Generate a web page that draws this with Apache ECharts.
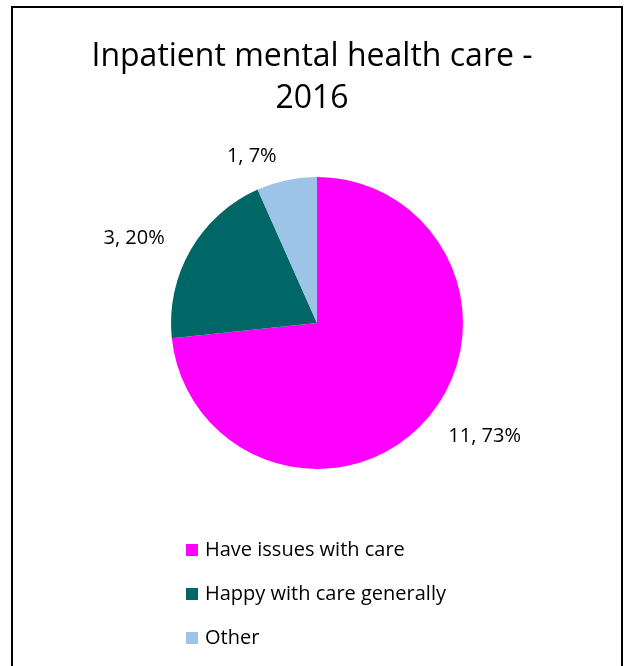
<!DOCTYPE html>
<html>
<head>
<meta charset="utf-8">
<script src="https://cdn.jsdelivr.net/npm/echarts@6/dist/echarts.min.js"></script>
<style>
  html, body { margin: 0; padding: 0; background: #fff; }
  #chart { width: 624px; height: 666px; }
</style>
</head>
<body>
<div id="chart"></div>
<script>
// data
var titleText = 'Inpatient mental health care -\n2016';
var categories = ['Have issues with care', 'Happy with care generally', 'Other'];
var counts = [11, 3, 1];
var percents = [73, 20, 7];
var colors = ['#FF00FF', '#006666', '#9DC3E6'];

var pie_data = categories.map(function (c, i) {
    return { name: c, value: counts[i], pct: percents[i], itemStyle: { color: colors[i] } };
});

var myChart = echarts.init(document.querySelector('#chart'));

var font = 'Open Sans';

var option = {
    animation: false,
    title: {
        text: titleText,
        left: 'center',
        top: 31,
        textStyle: {
            fontFamily: font,
            fontSize: 32,
            fontWeight: 'normal',
            color: '#000',
            lineHeight: 42
        }
    },
    graphic: [{
        type: 'rect',
        shape: { x: 12, y: 7, width: 610, height: 700 },
        style: { fill: 'none', stroke: '#000', lineWidth: 2 },
        silent: true
    }],
    legend: {
        orient: 'vertical',
        left: 181,
        top: 535,
        itemWidth: 12,
        itemHeight: 12,
        itemGap: 24,
        icon: 'rect',
        textStyle: { fontFamily: font, fontSize: 20, lineHeight: 20, color: '#000', padding: [0, 0, 0, 2] },
        data: categories
    },
    series: [{
        type: 'pie',
        center: [317, 323],
        radius: [0, 146],
        startAngle: 90,
        clockwise: true,
        avoidLabelOverlap: false,
        label: {
            show: true,
            position: 'outside',
            fontFamily: font,
            fontSize: 20,
            color: '#000',
            formatter: function (p) { return p.value + ', ' + p.data.pct + '%'; }
        },
        labelLine: { show: false, length: 24, length2: 0 },
        emphasis: { disabled: true },
        data: pie_data
    }]
};

myChart.setOption(option);
</script>
</body>
</html>
